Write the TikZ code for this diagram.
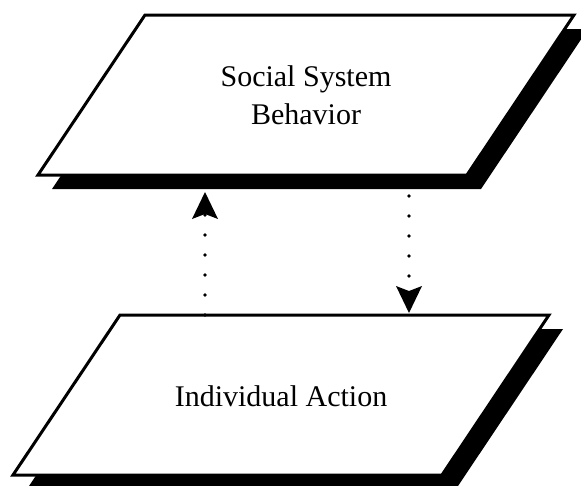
\documentclass[tikz,border=0pt]{standalone}
\usepackage{fontspec}
\setmainfont{Liberation Serif}
\usetikzlibrary{arrows.meta}
\begin{document}
\begin{tikzpicture}[x=1pt,y=-1pt,
  slab/.style={draw=black, fill=white, line width=3pt, line join=miter},
  slabshadow/.style={fill=black},
  layerlabel/.style={font=\fontsize{30}{38}\selectfont, align=center, inner sep=0pt},
  link/.style={line width=3.8pt, line cap=round, dash pattern=on 0pt off 20pt,
    -{Stealth[length=27pt, width=26pt, inset=5pt, line width=0pt]}}]
\useasboundingbox (0,0) rectangle (581,485);
\clip (0,0) rectangle (581,485);

% upper layer: social system
\coordinate (s1) at (145,15);
\coordinate (s2) at (574,15);
\coordinate (s3) at (467,175);
\coordinate (s4) at (38,175);
\fill[slabshadow] ([shift={(14,14)}]s1) -- ([shift={(14,14)}]s2)
  -- ([shift={(14,14)}]s3) -- ([shift={(14,14)}]s4) -- cycle;
\draw[slab] (s1) -- (s2) -- (s3) -- (s4) -- cycle;
\node[layerlabel] (system) at (306,95) {Social System\\Behavior};

% lower layer: individual action
\coordinate (i1) at (120,315);
\coordinate (i2) at (549,315);
\coordinate (i3) at (442,475);
\coordinate (i4) at (13,475);
\fill[slabshadow] ([shift={(14,14)}]i1) -- ([shift={(14,14)}]i2)
  -- ([shift={(14,14)}]i3) -- ([shift={(14,14)}]i4) -- cycle;
\draw[slab] (i1) -- (i2) -- (i3) -- (i4) -- cycle;
\node[layerlabel] (action) at (281,396) {Individual Action};

% links between the layers
\coordinate (upFrom) at (205,315);
\coordinate (upTo) at (205,192);
\coordinate (downFrom) at (409,196);
\coordinate (downTo) at (409,313);
\draw[link] (upFrom) -- (upTo);
\draw[link] (downFrom) -- (downTo);
\end{tikzpicture}
\end{document}
